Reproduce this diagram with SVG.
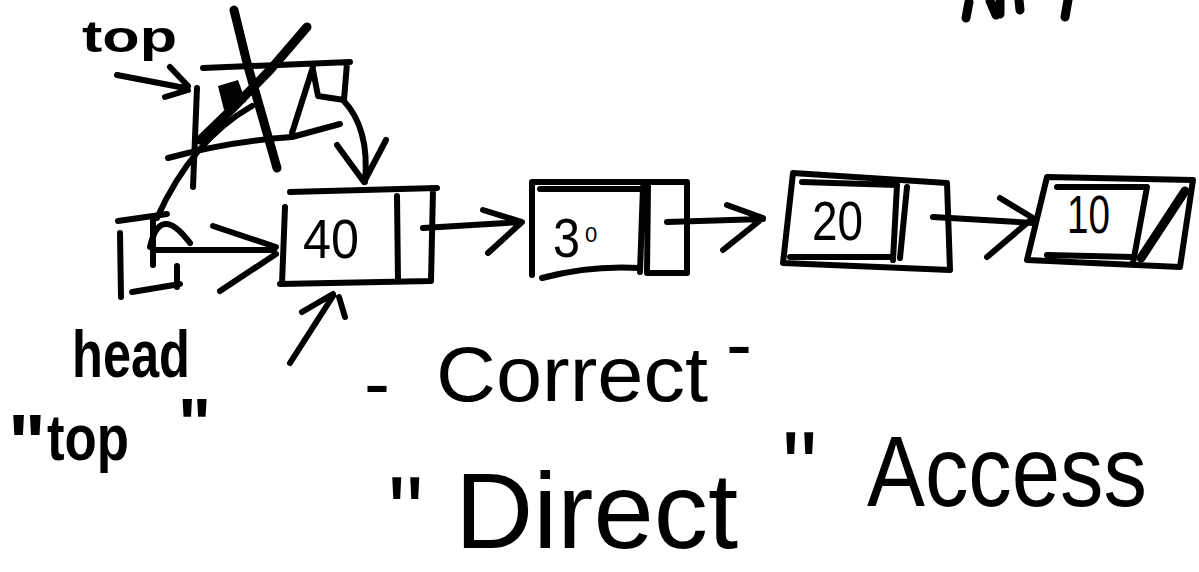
<svg xmlns="http://www.w3.org/2000/svg" width="1199" height="572" viewBox="0 0 1199 572">
<defs>
<style>
.ln{fill:none;stroke:#000;stroke-width:6;stroke-linecap:round;stroke-linejoin:round}
.thk{stroke-width:9}
.hand{font-family:"Liberation Sans",Arial,sans-serif;fill:#000}
.b{font-weight:bold}
</style>
</defs>
<rect width="1199" height="572" fill="#fff"/>

<g id="fragments">
<path class="ln thk" d="M969,2 L966,18 M990,1 L996,15 M1000,1 L1000,14 M1019,0 L1020,10 M1068,0 L1065,17"/>
</g>

<g id="label-top">
<text class="hand b" x="82" y="52" font-size="44" textLength="95" lengthAdjust="spacingAndGlyphs">top</text>
</g>

<g id="node-crossed">
<path class="ln" d="M203,68 L350,62 M347,63 L344,100 M313,70 L318,96 L344,100 M313,67 L292,133 M168,158 Q230,141 292,137 L340,124 M197,88 L193,187"/>
<path class="ln thk" d="M234,10 L247,63 L277,168 M307,27 L270,70 L233,108 L200,140"/>
<path d="M218,86 L238,80 L246,102 L224,110 Z" fill="#000"/>
</g>

<g id="node-head">
<path class="ln" d="M120,233 L121,297 M118,221 L167,214 M132,292 L180,284 M177,266 L177,287 M153,220 L153,265 M150,247 Q160,203 190,243"/>
</g>

<g id="node-40">
<path class="ln" d="M290,192 L437,188 M433,190 L431,281 L280,284 M285,207 L282,284 M397,196 L398,281"/>
<text class="hand" x="303" y="258" font-size="56" textLength="56" lengthAdjust="spacingAndGlyphs">40</text>
</g>

<g id="node-30">
<path class="ln" d="M532,182 L687,182 L687,273 L647,273 M532,182 L532,275 M540,189 L640,189 M542,278 Q590,265 640,268 M643,187 L640,272 M648,184 L647,272"/>
<text class="hand" x="553" y="257" font-size="56"><tspan textLength="27" lengthAdjust="spacingAndGlyphs">3</tspan><tspan x="585" y="242" font-size="22">0</tspan></text>
</g>

<g id="node-20">
<path class="ln" d="M793,173 L947,183 L950,270 L783,263 Z M802,182 L897,185 M790,257 L890,257 M897,185 L893,260 M907,187 L900,258"/>
<text class="hand" x="812" y="240" font-size="56" textLength="51" lengthAdjust="spacingAndGlyphs">20</text>
</g>

<g id="node-10">
<path class="ln" d="M1047,177 L1193,180 L1180,267 L1027,260 Z M1057,187 L1147,187 M1047,255 L1133,257 M1147,187 L1133,263"/>
<path class="ln thk" d="M1141,258 L1185,191"/>
<text class="hand" x="1067" y="233" font-size="54" textLength="43" lengthAdjust="spacingAndGlyphs">10</text>
</g>

<g id="connectors">
<path class="ln" d="M117,75 L185,88 M170,67 L188,86 M165,97 L188,90"/>
<path class="ln" d="M252,106 Q192,140 157,218"/>
<path class="ln" d="M343,100 Q370,128 365,182 M337,145 L364,182 L386,140"/>
<path class="ln" stroke-width="13" d="M153,250 L274,250"/>
<path class="ln" stroke-width="10" d="M213,226 L276,247 M220,291 L276,254"/>
<path class="ln" d="M290,363 L333,296 M302,312 L333,294 M339,297 L345,317"/>
<path class="ln" d="M423,228 L521,222 M483,210 L522,222 L488,253"/>
<path class="ln" d="M667,222 L763,219 M727,205 L763,218 L723,250"/>
<path class="ln" d="M933,217 L1033,223 M1000,198 L1033,218 L987,257"/>
</g>

<g id="label-head">
<text class="hand b" x="72" y="377" font-size="66" textLength="118" lengthAdjust="spacingAndGlyphs">head</text>
<text class="hand b"><tspan x="8" y="470" font-size="80">"</tspan><tspan x="47" y="460" font-size="64" textLength="82" lengthAdjust="spacingAndGlyphs">top</tspan><tspan x="178" y="448" font-size="70">"</tspan></text>
</g>

<g id="label-correct">
<text class="hand" font-size="78"><tspan x="364" y="410">-</tspan><tspan x="436" y="401" textLength="272" lengthAdjust="spacingAndGlyphs">Correct</tspan><tspan x="726" y="371">-</tspan></text>
</g>

<g id="label-access">
<text class="hand" font-size="108"><tspan x="388" y="546" font-size="100">"</tspan><tspan x="455" y="548" textLength="283" lengthAdjust="spacingAndGlyphs">Direct</tspan><tspan x="782" y="501" font-size="100">"</tspan><tspan x="867" y="506" font-size="100" textLength="280" lengthAdjust="spacingAndGlyphs">Access</tspan></text>
</g>
</svg>
